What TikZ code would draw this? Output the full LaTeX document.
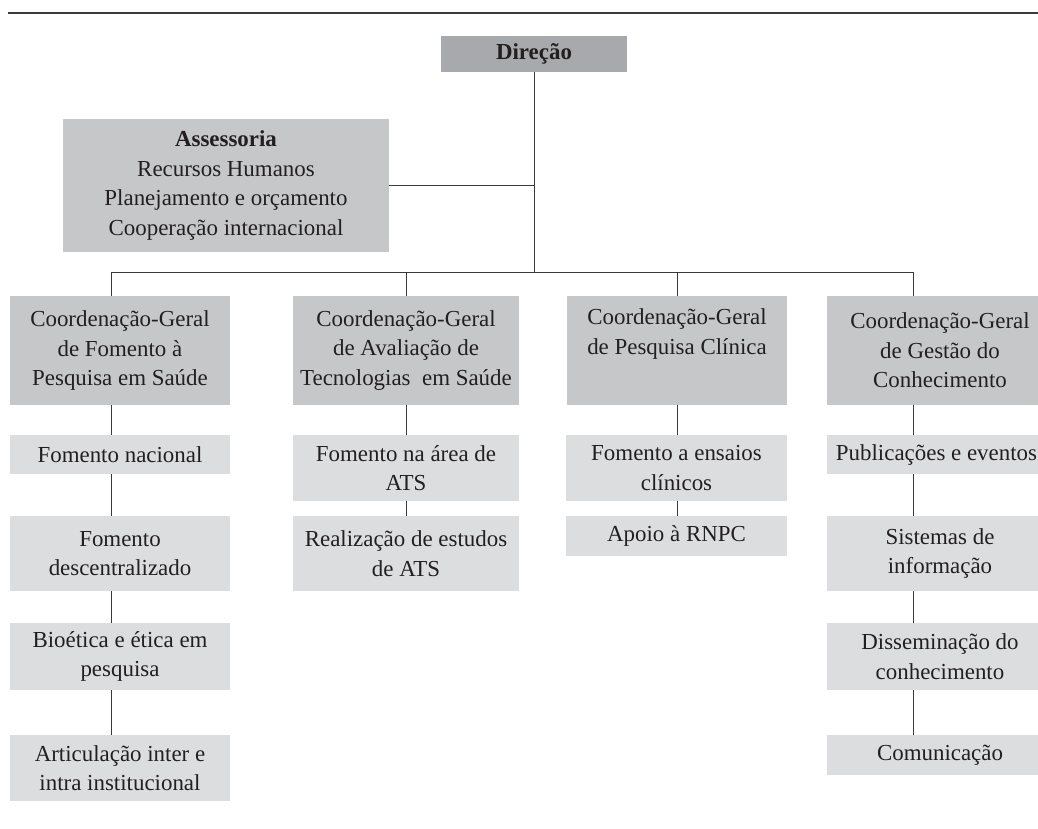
\documentclass[tikz,border=0pt]{standalone}
\usepackage{fontspec}
\setmainfont{Liberation Serif}
\definecolor{dirgray}{HTML}{A7A9AC}
\definecolor{midgray}{HTML}{C6C7C9}
\definecolor{lightgray}{HTML}{DCDDDF}
\definecolor{ink}{HTML}{231F20}
\definecolor{rule}{HTML}{3A3A3A}
\tikzset{
  boxbase/.style={inner sep=0pt, outer sep=0pt, align=center, text=ink,
    font=\fontsize{23}{29.5}\selectfont},
  dirbox/.style={boxbase, fill=dirgray, minimum width=186bp, minimum height=36bp},
  midbox/.style={boxbase, fill=midgray, minimum height=109bp},
  subbox/.style={boxbase, fill=lightgray},
  conn/.style={draw=rule, line width=1bp},
}
\begin{document}
\begin{tikzpicture}[x=1bp,y=-1bp]
\useasboundingbox (0,0) rectangle (1038,829);
\clip (0,0) rectangle (1038,829);
\draw[rule, line width=1.3bp] (8,13) -- (1038,13);

% top
\node[dirbox] (dir) at (534,54) {\bfseries Direção};
\node[midbox, minimum width=326bp, minimum height=133bp] (ass) at (226,185.5)
  {\bfseries Assessoria\\Recursos Humanos\\Planejamento e orçamento\\Cooperação internacional};

% coordinations
\node[midbox, minimum width=220bp] (c1) at (120,350.5) {Coordenação-Geral\\de Fomento à\\Pesquisa em Saúde};
\node[midbox, minimum width=226bp] (c2) at (406,350.5) {Coordenação-Geral\\de Avaliação de\\Tecnologias~ em Saúde};
\node[midbox, minimum width=220bp] (c3) at (677,350.5) {Coordenação-Geral\\de Pesquisa Clínica\\\strut};
\node[midbox, minimum width=226bp] (c4) at (940,350.5) {Coordenação-Geral\\de Gestão do\\Conhecimento};

% column 1
\node[subbox, minimum width=220bp, minimum height=39bp] (s11) at (120,454.5) {Fomento nacional};
\node[subbox, minimum width=220bp, minimum height=75bp] (s12) at (120,553.5) {Fomento\\descentralizado};
\node[subbox, minimum width=220bp, minimum height=67bp] (s13) at (120,656.5) {Bioética e ética em\\pesquisa};
\node[subbox, minimum width=220bp, minimum height=66bp] (s14) at (120,768) {Articulação inter e\\intra institucional};

% column 2
\node[subbox, minimum width=226bp, minimum height=66bp] (s21) at (406,468) {Fomento na área de\\ATS};
\node[subbox, minimum width=226bp, minimum height=75bp] (s22) at (406,553.5) {Realização de estudos\\de ATS};

% column 3
\node[subbox, minimum width=221bp, minimum height=66bp] (s31) at (676.5,468) {Fomento a ensaios\\clínicos};
\node[subbox, minimum width=221bp, minimum height=40bp] (s32) at (676.5,536) {Apoio à RNPC};

% column 4
\node[subbox, minimum width=226bp, minimum height=39bp] (s41) at (940,454.5) {Publicações e eventos\hspace{7bp}};
\node[subbox, minimum width=226bp, minimum height=75bp] (s42) at (940,553.5) {Sistemas de\\informação};
\node[subbox, minimum width=226bp, minimum height=67bp] (s43) at (940,656.5) {Disseminação do\\conhecimento};
\node[subbox, minimum width=226bp, minimum height=40bp] (s44) at (940,755) {Comunicação};

% connectors
\coordinate (b1) at (111,272);
\coordinate (b4) at (913,272);
\draw[conn] (dir.south) -- (dir.south |- b1);
\draw[conn] (ass.east) -- (ass.east -| dir.south);
\draw[conn] (b1) -- (b4);
\draw[conn] (b1) -- (b1 |- c1.north);
\draw[conn] (c2.north |- b1) -- (c2.north);
\draw[conn] (c3.north |- b1) -- (c3.north);
\draw[conn] (b4) -- (b4 |- c4.north);

\draw[conn] (b1 |- c1.south) -- (b1 |- s11.north);
\draw[conn] (b1 |- s11.south) -- (b1 |- s12.north);
\draw[conn] (b1 |- s12.south) -- (b1 |- s13.north);
\draw[conn] (b1 |- s13.south) -- (b1 |- s14.north);

\draw[conn] (c2.south) -- (c2.south |- s21.north);
\draw[conn] (s21.south) -- (s21.south |- s22.north);

\draw[conn] (c3.south) -- (c3.south |- s31.north);
\draw[conn] (c3.south |- s31.south) -- (c3.south |- s32.north);

\draw[conn] (b4 |- c4.south) -- (b4 |- s41.north);
\draw[conn] (b4 |- s41.south) -- (b4 |- s42.north);
\draw[conn] (b4 |- s42.south) -- (b4 |- s43.north);
\draw[conn] (b4 |- s43.south) -- (b4 |- s44.north);
\end{tikzpicture}
\end{document}
